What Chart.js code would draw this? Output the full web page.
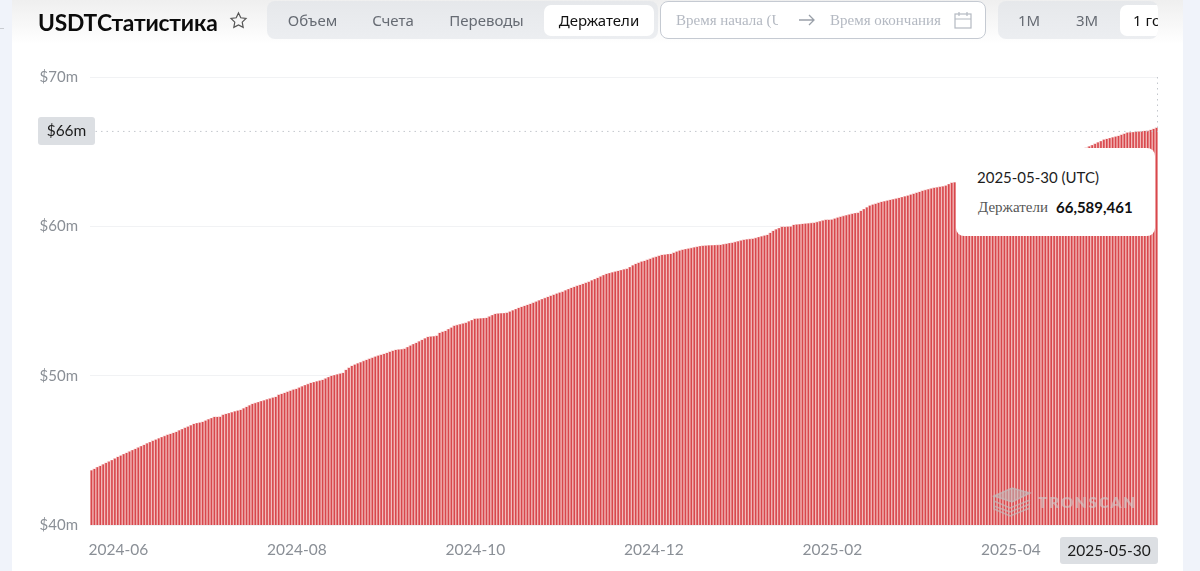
<!DOCTYPE html>
<html lang="ru">
<head>
<meta charset="utf-8">
<title>USDT Статистика</title>
<script src="https://cdn.jsdelivr.net/npm/chart.js@4"></script>
<style>
  html, body { margin: 0; padding: 0; background: #fff; }
  body { width: 1200px; height: 571px; position: relative; overflow: hidden; font-family: Lato, sans-serif; }
  #chart { position: absolute; left: 0; top: 0; }
  .abs { position: absolute; }
  .fade { left: 0; top: 0; width: 1200px; height: 44px; background: linear-gradient(#efefef, #fff); }
  .side { top: 0; height: 571px; background: #f0f3fa; }
  .title { left: 38px; top: 8px; font: 700 22.8px Lato, "Noto Sans", sans-serif; color: #0b0b0b; letter-spacing: -0.2px; white-space: nowrap; }
  .group { top: 1px; height: 38px; border-radius: 8px; background: linear-gradient(#e6e8eb, #eceef1); overflow: hidden; }
  .tab { position: absolute; top: 4px; height: 31px; text-align: center; font: 15px/31px "Noto Sans", sans-serif; color: #666b73; border-radius: 7px; white-space: nowrap; }
  .tab.on { background: #fff; color: #111; }
  .picker { left: 660px; top: 1px; width: 324px; height: 36px; border: 1px solid #c5cad2; border-radius: 8px; background: #fff; }
  .picker span { position: absolute; top: 10px; font: 15px "Liberation Serif", serif; color: #b4b9c2; white-space: nowrap; }
  .tip { left: 956px; top: 148px; width: 199px; height: 88px; background: #fff; border-radius: 8px; }
  .tip div { position: absolute; white-space: nowrap; }
  .mark { left: 992px; top: 487px; display: flex; align-items: center; gap: 6px; color: rgba(205,205,205,.6); font: 800 15.5px Lato, sans-serif; letter-spacing: 1.6px; }
</style>
</head>
<body>
<div class="abs fade"></div>
<div class="abs side" style="left:0;width:12px"></div>
<div class="abs side" style="left:1183px;width:17px"></div>
<div class="abs" style="left:0;top:28px;width:4px;height:1px;background:#c9ccd2"></div>
<canvas id="chart" width="1200" height="571"></canvas>

<div class="abs title">USDTСтатистика</div>
<svg class="abs" style="left:229px;top:11px" width="19" height="19" viewBox="0 0 24 24" fill="none" stroke="#555" stroke-width="1.5"><path d="M12 2.5l2.9 6.1 6.6.9-4.8 4.6 1.2 6.6-5.9-3.2-5.9 3.2 1.2-6.6L2.5 9.5l6.6-.9z"/></svg>

<div class="abs group" style="left:267px;width:391px">
  <div class="tab" style="left:0;width:91px">Объем</div>
  <div class="tab" style="left:105px;width:42px">Счета</div>
  <div class="tab" style="left:182px;width:75px">Переводы</div>
  <div class="tab on" style="left:277px;width:110px">Держатели</div>
</div>

<div class="abs picker">
  <span style="left:15px;width:102px;overflow:hidden">Время начала (UTC)</span>
  <svg class="abs" style="left:137px;top:11px" width="18" height="14" viewBox="0 0 18 14" fill="none" stroke="#9aa0a9" stroke-width="1.3"><path d="M1 7h15M11 2l5 5-5 5"/></svg>
  <span style="left:169px">Время окончания</span>
  <svg class="abs" style="left:293px;top:9px" width="18" height="18" viewBox="0 0 18 18" fill="none" stroke="#b4b9c2" stroke-width="1.2"><rect x="1" y="3" width="16" height="14"/><path d="M1 8h16M5 1v4M13 1v4"/></svg>
</div>

<div class="abs group" style="left:998px;width:160px">
  <div class="tab" style="left:12px;width:38px">1M</div>
  <div class="tab" style="left:70px;width:38px">3M</div>
  <div class="tab on" style="left:122px;width:60px;text-align:left;padding-left:13px">1 год</div>
</div>

<div class="abs mark">
  <svg width="40" height="30" viewBox="0 0 40 30" fill="none" stroke="rgba(190,190,190,.65)" stroke-width="1.6"><path d="M2 9L20 1l18 5-18 9z" fill="rgba(190,190,190,.55)"/><path d="M2 9v13l16 7 20-8M2 14l16 7 20-8M2 19l16 6 20-8"/></svg>
  <span>TRONSCAN</span>
</div>

<div class="abs tip" id="tip">
  <div id="tipDate" style="left:21px;top:20px;font:15px Lato,sans-serif;color:#1d1d1d"></div>
  <div id="tipName" style="left:22px;top:51px;font:15px 'Liberation Serif',serif;color:#555"></div>
  <div id="tipValue" style="left:100px;top:50px;font:700 15px Lato,sans-serif;color:#111"></div>
</div>

<script>
const yTicks = [40, 50, 60, 70];
const xTickLabels = ['2024-06', '2024-08', '2024-10', '2024-12', '2025-02', '2025-04'];
const xTickEvery = 61;
const firstDay = '2024-05-31';
const seriesName = 'Держатели';
const lastDate = '2025-05-30';
const lastHolders = '66,589,461';
const markerValue = 66.39;
const markerLabel = '$66m';

// holders in millions, one bar per day
const holders = [
  43.65,43.75,43.86,43.95,44.05,44.15,44.24,44.33,44.44,44.55,
  44.64,44.73,44.82,44.91,45.00,45.09,45.18,45.27,45.36,45.45,
  45.54,45.63,45.71,45.79,45.87,45.95,46.03,46.09,46.16,46.23,
  46.32,46.41,46.50,46.58,46.67,46.76,46.81,46.85,46.90,46.98,
  47.07,47.15,47.23,47.23,47.24,47.37,47.43,47.48,47.54,47.60,
  47.65,47.70,47.80,47.90,48.00,48.10,48.16,48.22,48.28,48.34,
  48.40,48.46,48.52,48.57,48.71,48.77,48.84,48.91,48.98,49.05,
  49.11,49.19,49.27,49.35,49.43,49.51,49.56,49.61,49.66,49.71,
  49.80,49.89,49.98,50.03,50.08,50.13,50.18,50.38,50.52,50.65,
  50.73,50.81,50.89,50.97,51.05,51.12,51.19,51.26,51.33,51.39,
  51.45,51.52,51.59,51.66,51.72,51.74,51.76,51.79,51.90,52.00,
  52.10,52.19,52.29,52.39,52.49,52.59,52.61,52.63,52.66,52.86,
  52.93,52.99,53.10,53.21,53.33,53.38,53.43,53.48,53.53,53.62,
  53.71,53.80,53.81,53.83,53.84,53.86,53.95,54.04,54.13,54.15,
  54.17,54.18,54.20,54.28,54.36,54.45,54.53,54.60,54.66,54.73,
  54.80,54.87,54.95,55.03,55.11,55.19,55.27,55.34,55.41,55.48,
  55.55,55.61,55.70,55.78,55.87,55.94,56.01,56.07,56.14,56.21,
  56.28,56.37,56.45,56.54,56.63,56.72,56.81,56.86,56.91,56.96,
  57.01,57.06,57.11,57.15,57.26,57.37,57.48,57.55,57.62,57.68,
  57.75,57.82,57.89,57.95,58.02,58.08,58.10,58.13,58.15,58.22,
  58.29,58.36,58.42,58.46,58.50,58.54,58.58,58.62,58.66,58.69,
  58.70,58.71,58.72,58.73,58.74,58.75,58.79,58.82,58.86,58.89,
  58.94,58.99,59.04,59.09,59.11,59.14,59.16,59.21,59.27,59.32,
  59.37,59.42,59.55,59.69,59.78,59.87,59.96,59.96,59.97,59.98,
  60.09,60.11,60.13,60.15,60.17,60.19,60.21,60.23,60.28,60.33,
  60.38,60.43,60.43,60.44,60.50,60.57,60.63,60.68,60.73,60.78,
  60.83,60.87,60.90,61.02,61.14,61.26,61.37,61.44,61.50,61.57,
  61.63,61.67,61.71,61.76,61.80,61.84,61.89,61.94,61.99,62.04,
  62.11,62.17,62.24,62.30,62.37,62.42,62.47,62.52,62.57,62.60,
  62.64,62.67,62.71,62.81,62.91,62.93,62.95,62.97,63.04,63.11,
  63.15,63.19,63.26,63.33,63.36,63.40,63.47,63.55,63.58,63.61,
  63.69,63.76,63.80,63.83,63.90,63.98,64.01,64.05,64.12,64.19,
  64.23,64.26,64.34,64.41,64.44,64.48,64.55,64.63,64.66,64.69,
  64.77,64.84,64.87,64.90,64.97,65.04,65.07,65.10,65.17,65.21,
  65.25,65.34,65.43,65.52,65.61,65.70,65.79,65.84,65.90,65.95,
  66.00,66.05,66.12,66.19,66.26,66.28,66.30,66.32,66.34,66.36,
  66.38,66.39,66.45,66.52,66.589461
];

const labels = holders.map((_, i) => {
  const d = new Date(firstDay + 'T00:00:00Z');
  d.setUTCDate(d.getUTCDate() + i);
  return d.toISOString().slice(0, 10);
});

document.getElementById('tipDate').textContent = lastDate + ' (UTC)';
document.getElementById('tipName').textContent = seriesName;
document.getElementById('tipValue').textContent = lastHolders;

function pill(ctx, text, x, y, w, h) {
  ctx.fillStyle = '#dcdfe3';
  ctx.beginPath();
  ctx.roundRect(x, y, w, h, 3);
  ctx.fill();
  ctx.fillStyle = '#1c1c1c';
  ctx.font = '15.5px Lato, sans-serif';
  ctx.textAlign = 'center';
  ctx.textBaseline = 'middle';
  ctx.fillText(text, x + w / 2, y + h / 2 + 0.5);
}

// dotted crosshair on the last day, with its two labels
const crosshair = {
  id: 'crosshair',
  afterDraw(chart) {
    const { ctx, chartArea, scales } = chart;
    const y = scales.y.getPixelForValue(markerValue);
    ctx.save();
    ctx.setLineDash([1.5, 4]);
    ctx.lineWidth = 1;
    ctx.strokeStyle = '#c3c7cd';
    ctx.beginPath();
    ctx.moveTo(chartArea.left, y + 0.5);
    ctx.lineTo(chartArea.right, y + 0.5);
    ctx.moveTo(chartArea.right - 0.5, chartArea.top);
    ctx.lineTo(chartArea.right - 0.5, y);
    ctx.stroke();
    ctx.setLineDash([]);
    pill(ctx, markerLabel, 38, y - 14, 57, 28);
    pill(ctx, lastDate, chartArea.right - 98, chartArea.bottom + 12, 98, 27);
    ctx.restore();
  }
};

new Chart(document.getElementById('chart'), {
  type: 'bar',
  data: {
    labels: labels,
    datasets: [
      {
        label: seriesName,
        data: holders,
        backgroundColor: '#d8474c',
        barPercentage: 0.55,
        categoryPercentage: 1,
        grouped: false,
        order: 1,
      },
      {
        // pale halo the screenshot scaling left around each bar
        label: seriesName,
        data: holders,
        backgroundColor: '#f2bcbc',
        barPercentage: 1,
        categoryPercentage: 1,
        grouped: false,
        order: 2,
      },
    ]
  },
  options: {
    responsive: false,
    animation: false,
    devicePixelRatio: 1,
    layout: { padding: { top: 77, right: 42, bottom: 0, left: 0 } },
    plugins: { legend: { display: false }, tooltip: { enabled: false } },
    scales: {
      x: {
        grid: { display: false },
        border: { display: false },
        afterFit(axis) { axis.height = 46; },
        afterBuildTicks(axis) {
          axis.ticks = xTickLabels.map((_, i) => ({ value: i * xTickEvery }));
        },
        ticks: {
          autoSkip: false,
          maxRotation: 0,
          labelOffset: 27,
          padding: 8,
          color: '#8a8f96',
          font: { family: 'Lato, sans-serif', size: 15.5 },
          callback: (v, i) => xTickLabels[i],
        },
      },
      y: {
        min: yTicks[0],
        max: yTicks[yTicks.length - 1],
        afterFit(axis) { axis.width = 90; },
        afterBuildTicks(axis) { axis.ticks = yTicks.map(v => ({ value: v })); },
        grid: { color: '#f1f2f4', drawTicks: false },
        border: { display: false },
        ticks: {
          padding: 12,
          color: '#8a8f96',
          font: { family: 'Lato, sans-serif', size: 15 },
          callback: v => '$' + v + 'm',
        },
      },
    },
  },
  plugins: [crosshair],
});
</script>
</body>
</html>
